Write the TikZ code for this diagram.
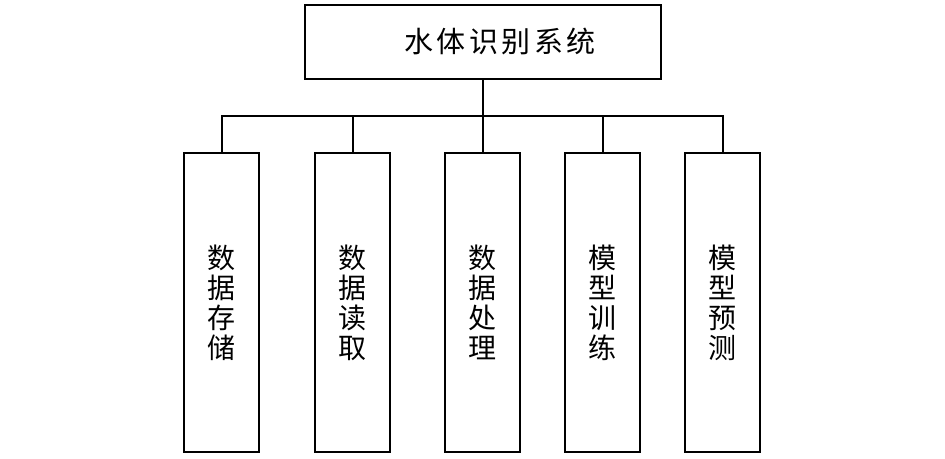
\documentclass[tikz,border=0pt]{standalone}
\usepackage{fontspec}
\newfontfamily\cjk{Noto Sans CJK SC}
\usepackage{tikz}

\begin{document}
\begin{tikzpicture}[x=1pt,y=1pt,line width=2pt,
  topbox/.style={rectangle,draw,inner sep=0pt,minimum width=356pt,minimum height=74.5pt},
  subbox/.style={rectangle,draw,inner sep=0pt,minimum width=75pt,minimum height=299pt,
    align=center,font=\cjk\fontsize{28}{30}\selectfont}]
\useasboundingbox (0,0) rectangle (945,-458);
\node[topbox,label={[xshift=17pt,font=\cjk\fontsize{29}{30}\selectfont]center:水\hspace{3.5pt}体\hspace{3.5pt}识\hspace{3.5pt}别\hspace{3.5pt}系\hspace{3.5pt}统}] at (483,-41.75) (sys) {};
\node[subbox] at (221.5,-302.5) (store) {数\\据\\存\\储};
\node[subbox] at (352.5,-302.5) (read) {数\\据\\读\\取};
\node[subbox] at (482.5,-302.5) (proc) {数\\据\\处\\理};
\node[subbox] at (602.5,-302.5) (train) {模\\型\\训\\练};
\node[subbox] at (722.5,-302.5) (pred) {模\\型\\预\\测};
\coordinate (bus) at (sys.south |- 0,-116);
\draw (sys.south) -- (bus);
\foreach \n in {store,read,proc,train,pred}
  \draw (bus) -| (\n.north);
\end{tikzpicture}
\end{document}
